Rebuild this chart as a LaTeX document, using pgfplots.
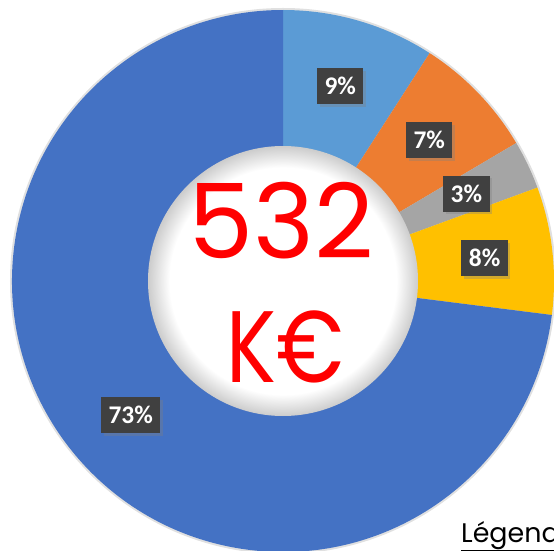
\documentclass[border=0pt]{standalone}
\usepackage{pgfplots}
\pgfplotsset{compat=1.18}
\usepackage{pgfplotstable}
\usepackage{fontspec}
\setmainfont{Carlito}
\newfontfamily\gothic{Poppins}
\newfontfamily\gothicN{Poppins}[FakeStretch=0.82]
\usetikzlibrary{shadows}
\definecolor{c1}{HTML}{5B9BD5}
\definecolor{c2}{HTML}{ED7D31}
\definecolor{c3}{HTML}{A5A5A5}
\definecolor{c4}{HTML}{FFC000}
\definecolor{c5}{HTML}{4472C4}
\definecolor{lbl}{HTML}{404040}
\definecolor{bigred}{HTML}{FF0000}
\pgfdeclareradialshading{holeshade}{\pgfpoint{0bp}{0bp}}{color(0bp)=(white); color(21bp)=(white); color(25bp)=(black!20); color(50bp)=(black!20)}
\newcommand\labelfont{\bfseries\fontsize{25.5}{25.5}\selectfont}

\pgfplotstableread{
value color
9.1 c1
7.4 c2
2.9 c3
7.6 c4
73.0 c5
}\slices
\pgfplotstablegetrowsof{\slices}
\pgfmathtruncatemacro\nslices{\pgfplotsretval-1}

\begin{document}
\begin{tikzpicture}
\useasboundingbox (0,0) rectangle (554bp,551bp);
\clip (0,0) rectangle (554bp,551bp);
\begin{axis}[x=1bp,y=1bp,xmin=0,xmax=554,ymin=0,ymax=551,
  hide axis,at={(0,0)},anchor=origin,clip=false]
\fill[black!12] (axis cs:283,270) circle[radius=273bp];
\def\astart{90}
\pgfplotsforeachungrouped \i in {0,...,\nslices}{%
  \pgfplotstablegetelem{\i}{value}\of\slices \let\v\pgfplotsretval
  \pgfplotstablegetelem{\i}{color}\of\slices \let\c\pgfplotsretval
  \pgfmathsetmacro\aend{\astart-3.6*\v}%
  \edef\cmd{\noexpand\fill[\c] (axis cs:283,270) -- ++(\astart:271bp) arc[start angle=\astart, end angle=\aend, radius=271bp] -- cycle;}%
  \cmd
  \global\let\astart\aend
}
\shade[shading=holeshade] (axis cs:283,270) circle[radius=135bp];
\def\astart{90}
\pgfplotsforeachungrouped \i in {0,...,\nslices}{%
  \pgfplotstablegetelem{\i}{value}\of\slices \let\v\pgfplotsretval
  \pgfmathsetmacro\aend{\astart-3.6*\v}%
  \pgfmathsetmacro\amid{(\astart+\aend)/2}%
  \pgfmathsetmacro\lx{283+203*cos(\amid)}%
  \pgfmathsetmacro\ly{270+203*sin(\amid)}%
  \pgfmathtruncatemacro\pct{round(\v)}%
  \edef\cmd{\noexpand\node[fill=lbl,text=white,font=\noexpand\labelfont,inner xsep=7.5bp,inner ysep=0pt,minimum height=36bp,drop shadow={shadow xshift=2.5bp,shadow yshift=-2.5bp,opacity=0.35}] at (axis cs:\lx,\ly) {\pct\noexpand\%};}%
  \cmd
  \global\let\astart\aend
}
\node[text=bigred,font=\gothic\fontsize{104}{104}\selectfont,inner sep=0pt] at (axis cs:281,330) {532};
\node[text=bigred,font=\gothicN\fontsize{102}{102}\selectfont,inner sep=0pt] at (axis cs:285,204.5) {K€};
\node[anchor=base west,font=\gothic\fontsize{27}{27}\selectfont,inner sep=0pt] at (axis cs:461,9) {\underline{Légende}};
\end{axis}
\end{tikzpicture}
\end{document}
